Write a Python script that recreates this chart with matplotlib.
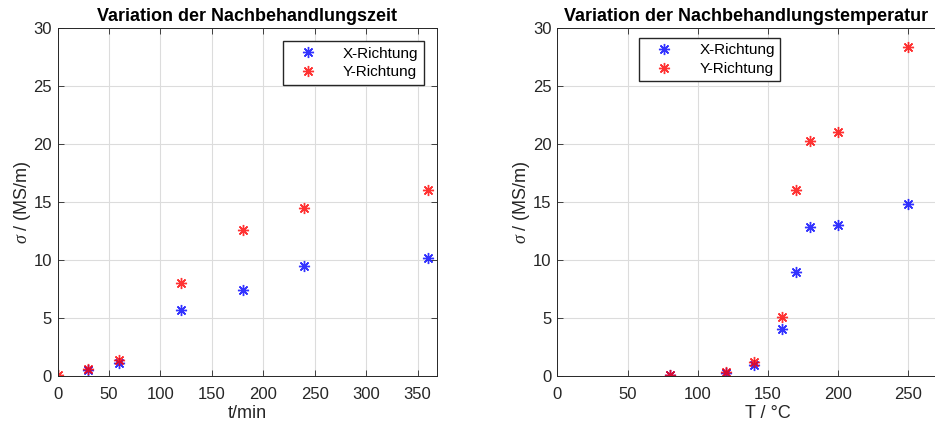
import matplotlib.pyplot as plt

plt.rcParams['font.family'] = ['Liberation Sans', 'DejaVu Sans']
plt.rcParams['mathtext.fontset'] = 'custom'
plt.rcParams['mathtext.it'] = 'Liberation Serif:italic'

# Nachbehandlungszeit (t/min)
t_x = [30, 60, 120, 180, 240, 360]
sig_t_x = [0.55, 1.1, 5.65, 7.45, 9.45, 10.15]
t_y = [0, 30, 60, 120, 180, 240, 360]
sig_t_y = [0.05, 0.6, 1.35, 8.05, 12.55, 14.45, 16.05]

# Nachbehandlungstemperatur (T / °C)
T_x = [80, 120, 140, 160, 170, 180, 200, 250]
sig_T_x = [0.12, 0.22, 0.92, 4.05, 8.95, 12.85, 13.05, 14.85]
T_y = [80, 120, 140, 160, 170, 180, 200, 250]
sig_T_y = [0.12, 0.38, 1.25, 5.05, 16.0, 20.25, 21.0, 28.4]

W, H = 935, 429
fig = plt.figure(figsize=(W / 100, H / 100), dpi=100)

txt = '#262626'
star = (8, 2, 0)


def style(ax):
    ax.set_ylim(0, 30)
    ax.set_yticks(range(0, 31, 5))
    ax.grid(True, color='#dcdcdc', linewidth=0.8)
    ax.set_axisbelow(True)
    ax.tick_params(direction='in', length=4, width=0.6, top=True, right=True,
                   labelsize=12, colors=txt, pad=4)
    ax.tick_params(axis='x', pad=8)
    for s in ax.spines.values():
        s.set_color('#262626')
        s.set_linewidth(0.7)
    ax.set_ylabel(r'$\sigma$ / (MS/m)', fontsize=13, color=txt, labelpad=0.5)


def legend(ax, loc, anchor):
    ax.legend(loc=loc, bbox_to_anchor=anchor, fancybox=False,
              edgecolor='#262626', framealpha=1, fontsize=11,
              handlelength=2.6, handletextpad=1.0, borderpad=0.35,
              labelspacing=0.3, borderaxespad=0)


ax1 = fig.add_axes([57.5 / W, 53 / H, 379.2 / W, 348 / H])
ax1.plot(t_x, sig_t_x, linestyle='none', marker=star, color='#0000ff',
         markersize=8, markeredgewidth=1, label='X-Richtung', alpha=0.8)
ax1.plot(t_y, sig_t_y, linestyle='none', marker=star, color='#ff0000',
         markersize=8, markeredgewidth=1, label='Y-Richtung', alpha=0.8)
ax1.set_xlim(0, 368.5)
ax1.set_xticks(range(0, 351, 50))
style(ax1)
ax1.set_xlabel('t/min', fontsize=13, color=txt, labelpad=2)
ax1.set_title('Variation der Nachbehandlungszeit', fontsize=13,
              fontweight='bold', pad=5, x=0.501)
legend(ax1, 'upper right', (0.9665, 0.962))

ax2 = fig.add_axes([557.3 / W, 53 / H, 421.2 / W, 348 / H])
ax2.plot(T_x, sig_T_x, linestyle='none', marker=star, color='#0000ff',
         markersize=8, markeredgewidth=1, label='X-Richtung', alpha=0.8)
ax2.plot(T_y, sig_T_y, linestyle='none', marker=star, color='#ff0000',
         markersize=8, markeredgewidth=1, label='Y-Richtung', alpha=0.8)
ax2.set_xlim(0, 300)
ax2.set_xticks(range(0, 251, 50))
style(ax2)
ax2.set_xlabel('T / °C', fontsize=13, color=txt, labelpad=2)
ax2.set_title('Variation der Nachbehandlungstemperatur', fontsize=13,
              fontweight='bold', pad=5, x=0.449)
legend(ax2, 'upper left', (0.194, 0.971))

fig.savefig('out.png', dpi=100)
